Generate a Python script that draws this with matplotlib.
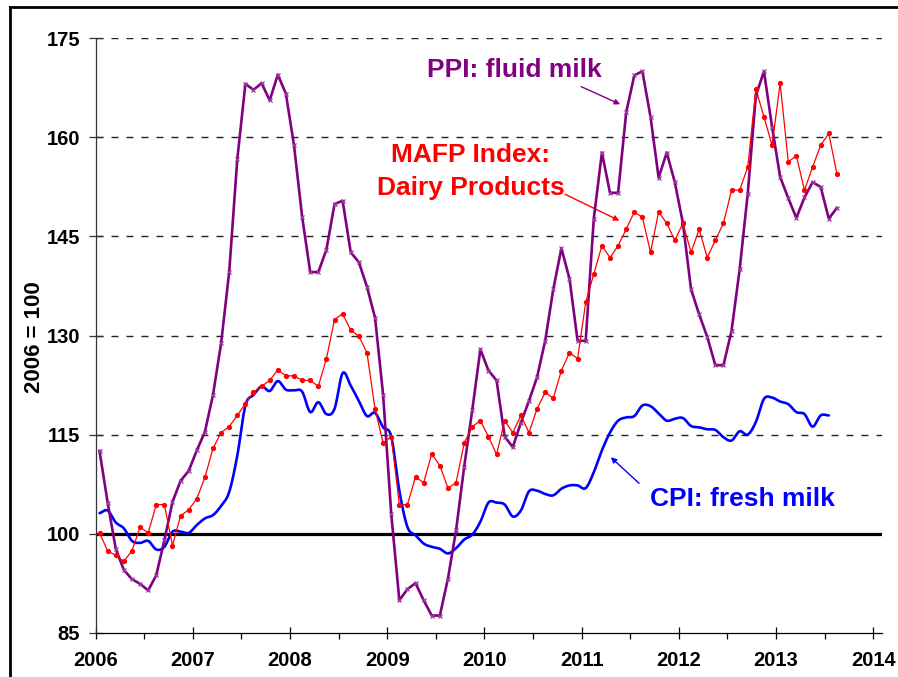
import numpy as np
import matplotlib
matplotlib.use("Agg")
import matplotlib.pyplot as plt
from matplotlib.lines import Line2D
from matplotlib.ticker import FixedLocator, NullFormatter

plt.rcParams['font.family'] = ['Liberation Sans', 'DejaVu Sans']
plt.rcParams['font.weight'] = 'bold'

# ---------------- data (monthly, Jan 2006 onward) ----------------
start_year = 2006
ppi_fluid_milk = [
    112.5, 104.7, 97.7, 94.5, 93.1, 92.4, 91.4, 93.7, 99.0, 104.8, 108.0, 109.5,
    112.6, 115.4, 121.0, 128.8, 139.6, 156.7, 168.1, 167.2, 168.2, 165.6, 169.5, 166.6,
    158.8, 148.0, 139.6, 139.6, 143.0, 149.9, 150.4, 142.6, 141.1, 137.4, 132.7, 121.0,
    103.0, 89.9, 91.6, 92.5, 89.9, 87.6, 87.6, 93.2, 100.5, 110.1, 118.7, 127.9,
    124.7, 123.2, 114.7, 113.1, 116.8, 120.1, 123.7, 129.2, 137.0, 143.2, 138.6, 129.2,
    129.2, 147.7, 157.7, 151.6, 151.6, 163.8, 169.4, 170.0, 163.1, 153.9, 157.7, 153.2,
    147.0, 137.0, 133.2, 129.8, 125.5, 125.5, 130.7, 140.0, 151.5, 166.3, 170.0, 161.6,
    154.0, 150.8, 147.8, 150.9, 153.2, 152.5, 147.7, 149.3,
]
mafp_dairy = [
    100.1, 97.4, 96.7, 95.8, 97.4, 101.0, 100.1, 104.4, 104.4, 98.2, 102.7, 103.6,
    105.3, 108.5, 112.9, 115.3, 116.2, 117.9, 119.7, 121.4, 122.3, 123.2, 124.8, 123.9,
    123.9, 123.2, 123.2, 122.3, 126.5, 132.4, 133.3, 130.8, 129.9, 127.4, 118.9, 113.7,
    114.7, 104.4, 104.4, 108.6, 107.7, 112.1, 110.3, 106.9, 107.7, 113.7, 116.2, 117.1,
    114.7, 112.0, 117.1, 115.3, 117.9, 115.3, 118.9, 121.4, 120.5, 124.7, 127.4, 126.5,
    135.0, 139.3, 143.6, 141.8, 143.6, 146.1, 148.7, 147.9, 142.6, 148.7, 147.0, 144.4,
    147.0, 142.6, 146.1, 141.8, 144.4, 147.0, 152.0, 152.0, 155.5, 167.3, 163.1, 158.8,
    168.2, 156.3, 157.2, 152.0, 155.5, 158.8, 160.6, 154.5,
]
cpi_fresh_milk = [
    103.1, 103.5, 101.7, 100.8, 98.9, 98.6, 98.9, 97.6, 98.0, 100.3, 100.3, 100.1,
    101.3, 102.3, 102.8, 104.2, 106.3, 111.8, 119.4, 121.0, 122.3, 121.6, 123.1, 121.8,
    121.7, 121.5, 118.4, 119.9, 118.1, 118.9, 124.3, 122.4, 120.1, 117.8, 118.3, 116.1,
    114.7, 106.5, 101.0, 99.75, 98.5, 98.0, 97.7, 97.0, 97.8, 99.1, 99.85, 101.8,
    104.7, 104.7, 104.4, 102.6, 103.5, 106.4, 106.5, 106.0, 105.8, 106.8, 107.3, 107.3,
    106.9, 109.3, 112.6, 115.3, 117.1, 117.6, 117.8, 119.4, 119.3, 118.2, 117.1, 117.4,
    117.5, 116.3, 116.1, 115.8, 115.7, 114.6, 114.1, 115.5, 115.0, 116.9, 120.4, 120.6,
    120.0, 119.6, 118.4, 118.1, 116.2, 117.9, 117.9,
]
y_ticks = [85, 100, 115, 130, 145, 160, 175]
x_years = [2006, 2007, 2008, 2009, 2010, 2011, 2012, 2013, 2014]


def month_x(n):
    return start_year + (np.arange(n) + 0.5) / 12.0


def smooth(x, y, steps=12):
    """Catmull-Rom rendering of a line (like Excel's smoothed line)."""
    x = np.asarray(x, float)
    y = np.asarray(y, float)
    px = np.concatenate([[2 * x[0] - x[1]], x, [2 * x[-1] - x[-2]]])
    py = np.concatenate([[2 * y[0] - y[1]], y, [2 * y[-1] - y[-2]]])
    xs, ys = [], []
    t = np.linspace(0, 1, steps, endpoint=False)
    for i in range(1, len(px) - 2):
        for P, out in ((px, xs), (py, ys)):
            p0, p1, p2, p3 = P[i - 1], P[i], P[i + 1], P[i + 2]
            out.extend(0.5 * ((2 * p1) + (-p0 + p2) * t
                              + (2 * p0 - 5 * p1 + 4 * p2 - p3) * t ** 2
                              + (-p0 + 3 * p1 - 3 * p2 + p3) * t ** 3))
    xs.append(x[-1])
    ys.append(y[-1])
    return np.array(xs), np.array(ys)


W, H = 898, 677
fig = plt.figure(figsize=(W / 100, H / 100), dpi=100)
ax_l, ax_r, ax_t, ax_b = 95.5, 881.7, 38.3, 632.7
ax = fig.add_axes([ax_l / W, 1 - ax_b / H, (ax_r - ax_l) / W, (ax_b - ax_t) / H])

# outer frame (cropped at right / bottom)
fig.add_artist(Line2D([10 / W, 1.01], [1 - 7 / H, 1 - 7 / H], transform=fig.transFigure,
                      color='black', lw=2.0))
fig.add_artist(Line2D([10 / W, 10 / W], [1 - 7 / H, -0.01], transform=fig.transFigure,
                      color='black', lw=2.0))

# grid
for v in y_ticks[1:]:
    ax.axhline(v, color='#222222', lw=1.0, dashes=(5, 5.8), zorder=1)
ax.axhline(100, color='black', lw=2.3, zorder=1.5)

# series
xc = month_x(len(cpi_fresh_milk))
sx, sy = smooth(xc, cpi_fresh_milk)
ax.plot(sx, sy, color='#0000FF', lw=1.9, zorder=3, solid_capstyle='round')

xp = month_x(len(ppi_fluid_milk))
ax.plot(xp, ppi_fluid_milk, color='#800080', lw=1.9, marker='x', ms=3.5, mew=0.9,
        mec='#9a3a9a', zorder=4)

xm = month_x(len(mafp_dairy))
ax.plot(xm, mafp_dairy, color='#FF0000', lw=0.9, marker='o', ms=3.8, mew=0,
        zorder=5)

# axes
ax.set_xlim(2006, 2014.086)
ax.set_ylim(85, 175)
for s in ('top', 'right'):
    ax.spines[s].set_visible(False)
ax.spines['left'].set_color('#333333')
ax.spines['left'].set_linewidth(0.9)
ax.spines['bottom'].set_color('black')
ax.spines['bottom'].set_linewidth(0.9)
ax.set_yticks(y_ticks)
ax.set_xticks(x_years)
ax.xaxis.set_minor_locator(FixedLocator([y + 0.5 for y in x_years[:-1]]))
ax.xaxis.set_minor_formatter(NullFormatter())
ax.tick_params(axis='y', direction='inout', length=9.5, width=0.9, pad=6.5,
               labelsize=14.5, color='#333333')
ax.tick_params(axis='x', which='major', direction='inout', length=8.5, width=0.9,
               pad=9, labelsize=14.5)
ax.tick_params(axis='x', which='minor', direction='out', length=4.3, width=0.9)
for lab in ax.get_xticklabels() + ax.get_yticklabels():
    lab.set_fontweight('bold')

fig.text(34 / W, 1 - 337.5 / H, '2006 = 100', rotation=90, ha='center', va='center',
         fontsize=16, fontweight='bold')

# annotations
ax.text(2010.311, 169.1, 'PPI: fluid milk', color='#800080', fontsize=19,
        fontweight='bold', ha='center', va='baseline')
ax.annotate('', xy=(2011.396, 165.01), xytext=(2010.995, 167.68),
            arrowprops=dict(arrowstyle='-|>', color='#800080', lw=1.0,
                            mutation_scale=8, shrinkA=0, shrinkB=0))
ax.text(2009.858, 156.32, 'MAFP Index:', color='#FF0000', fontsize=19,
        fontweight='bold', ha='center', va='baseline')
ax.text(2009.858, 151.28, 'Dairy Products', color='#FF0000', fontsize=19,
        fontweight='bold', ha='center', va='baseline')
ax.annotate('', xy=(2011.388, 147.39), xytext=(2010.830, 151.38),
            arrowprops=dict(arrowstyle='-|>', color='#FF0000', lw=1.0,
                            mutation_scale=8, shrinkA=0, shrinkB=0))
ax.text(2012.650, 104.23, 'CPI: fresh milk', color='#0000FF', fontsize=19,
        fontweight='bold', ha='center', va='baseline')
ax.annotate('', xy=(2011.300, 111.56), xytext=(2011.591, 107.62),
            arrowprops=dict(arrowstyle='-|>', color='#0000FF', lw=1.0,
                            mutation_scale=8, shrinkA=0, shrinkB=0))

fig.savefig('out.png', dpi=100)
